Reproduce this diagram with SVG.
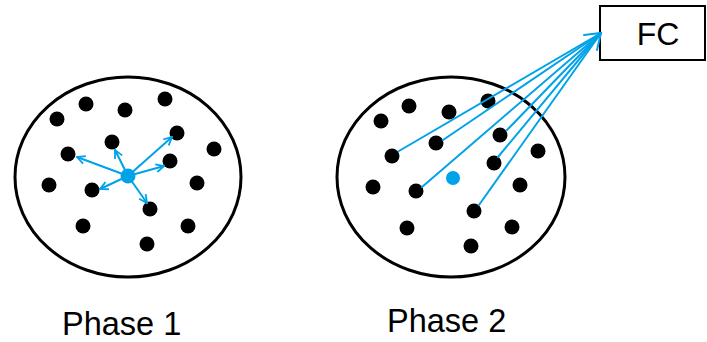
<svg xmlns="http://www.w3.org/2000/svg" width="707" height="342" viewBox="0 0 707 342">
  <defs>
    <style>
      .cloud { fill: none; stroke: #000; stroke-width: 3; }
      .dot { fill: #000; }
      .hub { fill: #00a2e8; }
      .link { stroke: #00a2e8; stroke-width: 2; fill: none; stroke-linecap: round; }
      .label { font-family: "Liberation Sans", Arial, sans-serif; fill: #000; }
    </style>
    <marker id="tip" viewBox="0 0 10 10" refX="9" refY="5" markerWidth="10" markerHeight="10" markerUnits="userSpaceOnUse" orient="auto">
      <path d="M1,1 L9,5 L1,9" fill="none" stroke="#00a2e8" stroke-width="1.8"/>
    </marker>
  </defs>
  <rect width="707" height="342" fill="#fff"/>

  <!-- Phase 1: one node broadcasting to its neighbours -->
  <g id="phase1">
    <ellipse class="cloud" cx="128" cy="177" rx="113" ry="100"/>
    <g id="phase1-nodes">
      <circle class="dot" cx="57" cy="119" r="7.5"/>
      <circle class="dot" cx="86" cy="104" r="7.5"/>
      <circle class="dot" cx="125" cy="110" r="7.5"/>
      <circle class="dot" cx="165" cy="99" r="7.5"/>
      <circle class="dot" cx="112" cy="142" r="7.5"/>
      <circle class="dot" cx="177" cy="133" r="7.5"/>
      <circle class="dot" cx="214" cy="149" r="7.5"/>
      <circle class="dot" cx="68" cy="154" r="7.5"/>
      <circle class="dot" cx="170" cy="161" r="7.5"/>
      <circle class="dot" cx="49" cy="185" r="7.5"/>
      <circle class="dot" cx="92" cy="190" r="7.5"/>
      <circle class="dot" cx="197" cy="183" r="7.5"/>
      <circle class="dot" cx="150" cy="209" r="7.5"/>
      <circle class="dot" cx="83" cy="226" r="7.5"/>
      <circle class="dot" cx="188" cy="226" r="7.5"/>
      <circle class="dot" cx="147" cy="244" r="7.5"/>
    </g>
    <circle id="phase1-hub" class="hub" cx="128" cy="176" r="7.5"/>
  </g>

  <!-- Phase 2: cluster members reporting to FC -->
  <g id="phase2">
    <ellipse class="cloud" cx="451" cy="177" rx="114" ry="100"/>
    <g id="phase2-nodes">
      <circle class="dot" cx="381" cy="121" r="7.5"/>
      <circle class="dot" cx="409" cy="106" r="7.5"/>
      <circle class="dot" cx="449" cy="112" r="7.5"/>
      <circle class="dot" cx="488" cy="101" r="7.5"/>
      <circle class="dot" cx="436" cy="143" r="7.5"/>
      <circle class="dot" cx="500" cy="135" r="7.5"/>
      <circle class="dot" cx="538" cy="151" r="7.5"/>
      <circle class="dot" cx="392" cy="156" r="7.5"/>
      <circle class="dot" cx="494" cy="163" r="7.5"/>
      <circle class="dot" cx="373" cy="187" r="7.5"/>
      <circle class="dot" cx="416" cy="191" r="7.5"/>
      <circle class="dot" cx="520" cy="185" r="7.5"/>
      <circle class="dot" cx="474" cy="211" r="7.5"/>
      <circle class="dot" cx="407" cy="228" r="7.5"/>
      <circle class="dot" cx="512" cy="227" r="7.5"/>
      <circle class="dot" cx="471" cy="246" r="7.5"/>
    </g>
    <circle id="phase2-hub" class="hub" cx="453" cy="178" r="7"/>
  </g>

  <g id="fc">
    <rect x="600" y="6" width="105" height="54" fill="#fff" stroke="#000" stroke-width="2"/>
    <text class="label" x="658" y="45" font-size="32" text-anchor="middle">FC</text>
  </g>

  <g id="connectors">
    <!-- broadcast arrows in phase 1 -->
    <line class="link" x1="128" y1="176" x2="77" y2="157" marker-end="url(#tip)"/>
    <line class="link" x1="128" y1="176" x2="115" y2="150" marker-end="url(#tip)"/>
    <line class="link" x1="128" y1="176" x2="172" y2="137" marker-end="url(#tip)"/>
    <line class="link" x1="128" y1="176" x2="164" y2="166" marker-end="url(#tip)"/>
    <line class="link" x1="128" y1="176" x2="100" y2="189" marker-end="url(#tip)"/>
    <line class="link" x1="128" y1="176" x2="147" y2="203" marker-end="url(#tip)"/>
    <!-- reports to FC in phase 2 -->
    <line class="link" x1="399" y1="151" x2="601" y2="33"/>
    <line class="link" x1="443" y1="140" x2="601" y2="33"/>
    <line class="link" x1="422" y1="187" x2="601" y2="33"/>
    <line class="link" x1="507" y1="130" x2="601" y2="33"/>
    <line class="link" x1="498" y1="157" x2="601" y2="33"/>
    <line class="link" x1="479" y1="205" x2="601" y2="33"/>
    <polyline class="link" points="584,35 601,33 597,50"/>
  </g>

  <text class="label" x="62" y="335" font-size="32.5">Phase 1</text>
  <text class="label" x="387" y="332" font-size="32.5">Phase 2</text>
</svg>
